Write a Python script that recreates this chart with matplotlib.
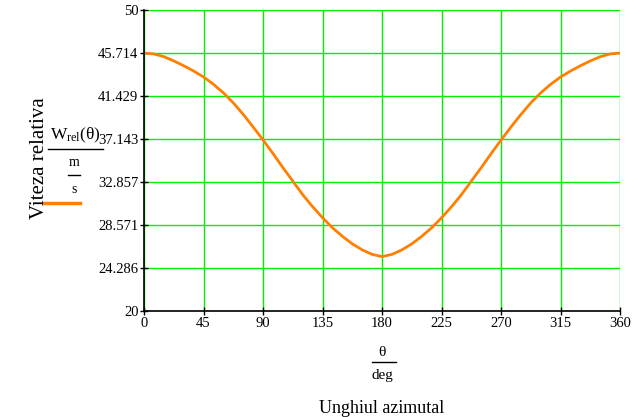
import matplotlib
matplotlib.use("Agg")
import matplotlib.pyplot as plt
from matplotlib.lines import Line2D

plt.rcParams['font.family'] = ['Liberation Serif', 'DejaVu Serif']
plt.rcParams['mathtext.fontset'] = 'custom'
plt.rcParams['mathtext.rm'] = 'Liberation Serif'
plt.rcParams['mathtext.it'] = 'Liberation Serif'

# unghi (deg) si viteza relativa (m/s)
theta = [0, 7.5, 15, 22.5, 30, 37.5, 45, 52.5, 60, 67.5, 75, 82.5, 90,
         97.5, 105, 112.5, 120, 127.5, 135, 142.5, 150, 157.5, 165, 172.5, 180,
         187.5, 195, 202.5, 210, 217.5, 225, 232.5, 240, 247.5, 255, 262.5, 270,
         277.5, 285, 292.5, 300, 307.5, 315, 322.5, 330, 337.5, 345, 352.5, 360]
w_rel = [45.71, 45.62, 45.35, 44.93, 44.45, 43.92, 43.33, 42.6, 41.75, 40.75, 39.6, 38.35, 37.05,
         35.7, 34.3, 32.95, 31.6, 30.4, 29.3, 28.3, 27.45, 26.7, 26.1, 25.65, 25.43,
         25.65, 26.1, 26.7, 27.45, 28.3, 29.3, 30.4, 31.6, 32.95, 34.3, 35.7, 37.05,
         38.35, 39.6, 40.75, 41.75, 42.6, 43.33, 43.92, 44.45, 44.93, 45.35, 45.62, 45.71]

x_ticks = [0, 45, 90, 135, 180, 225, 270, 315, 360]
y_ticks = [20, 24.286, 28.571, 32.857, 37.143, 41.429, 45.714, 50]
y_labels = ['20', '24.286', '28.571', '32.857', '37.143', '41.429', '45.714', '50']

fig = plt.figure(figsize=(6.4, 4.17), dpi=100)
ax = fig.add_axes([0.225, 0.254, 0.744, 0.722])

ax.plot(theta, w_rel, color='#ff8000', linewidth=2)

ax.set_xlim(0, 360)
ax.set_ylim(20, 50)
ax.set_xticks(x_ticks)
ax.set_yticks(y_ticks)
ax.set_yticklabels(y_labels)
ax.grid(True, color='#00ee00', linewidth=1)
ax.set_axisbelow(True)
for s in ['top', 'right']:
    ax.spines[s].set_visible(False)
for s in ['left', 'bottom']:
    ax.spines[s].set_linewidth(1.2)
ax.tick_params(direction='inout', length=6, width=1, labelsize=10.5, pad=1)

# eticheta axei Y
fig.text(40 / 640, 1 - 158 / 417, 'Viteza relativa', rotation=90, fontsize=15,
         ha='center', va='center')
fig.text(75 / 640, 1 - 135 / 417, r'W$_{\mathrm{rel}}$(θ)', fontsize=12.5,
         ha='center', va='center')
fig.add_artist(Line2D([48 / 640, 103 / 640], [1 - 149 / 417, 1 - 149 / 417],
                      color='black', linewidth=1, transform=fig.transFigure))
fig.text(74 / 640, 1 - 163 / 417, 'm', fontsize=10, ha='center', va='center')
fig.add_artist(Line2D([68 / 640, 80 / 640], [1 - 175 / 417, 1 - 175 / 417],
                      color='black', linewidth=1, transform=fig.transFigure))
fig.text(74 / 640, 1 - 189 / 417, 's', fontsize=10, ha='center', va='center')
fig.add_artist(Line2D([44 / 640, 80 / 640], [1 - 203 / 417, 1 - 203 / 417],
                      color='#ff8000', linewidth=2.5, transform=fig.transFigure))

# eticheta axei X
fig.text(382 / 640, 1 - 352 / 417, 'θ', fontsize=11, ha='center', va='center')
fig.add_artist(Line2D([372 / 640, 396 / 640], [1 - 362 / 417, 1 - 362 / 417],
                      color='black', linewidth=1, transform=fig.transFigure))
fig.text(382 / 640, 1 - 376 / 417, 'deg', fontsize=11, ha='center', va='center')
fig.text(382 / 640, 1 - 400 / 417, 'Unghiul azimutal', fontsize=13,
         ha='center', va='top')

fig.savefig('out.png', dpi=100)
